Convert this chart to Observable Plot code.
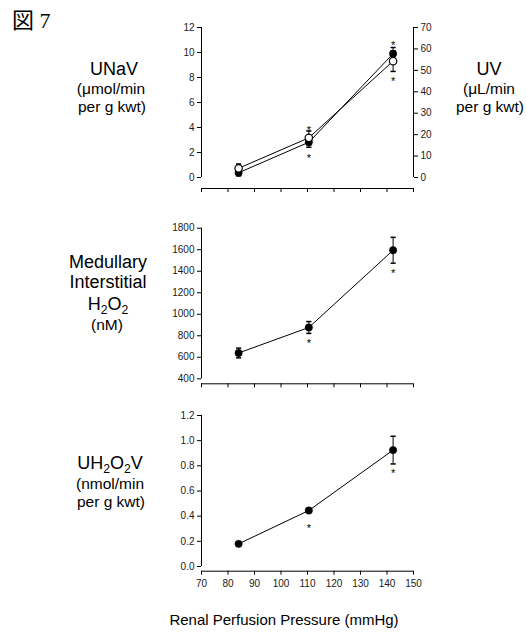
<!DOCTYPE html>
<html><head><meta charset="utf-8">
<script src="https://cdn.jsdelivr.net/npm/d3@7"></script>
<script src="https://cdn.jsdelivr.net/npm/@observablehq/plot@0.6"></script>
<style>
body{margin:0;background:#fff;}
#chart{position:relative;width:526px;height:635px;overflow:hidden;background:#fff;}
#chart > svg{position:absolute;left:0;}
</style></head><body><div id="chart"></div>
<script>
// shared x
const pressure = [84, 110.5, 142.3];
const xTicks = [70, 80, 90, 100, 110, 120, 130, 140, 150];
// top panel: UNaV (filled, left axis) and UV (open, right axis)
const unav = [0.38, 2.82, 9.9];
const unavErr = [0.25, 0.4, 0.5];
const unavStar = [null, 1.76, 10.8];
const uv = [4.3, 18.5, 54.3];
const uvErr = [2.0, 3.2, 4.8];
const uvStar = [null, 23.3, 46.1];
const unavTicks = [0, 2, 4, 6, 8, 10, 12];
const uvTicks = [0, 10, 20, 30, 40, 50, 60, 70];
// middle panel: medullary interstitial H2O2 (nM)
const h2o2 = [640, 877, 1595];
const h2o2Err = [45, 55, 120];
const h2o2Star = [null, 760, 1405];
const h2o2Ticks = [400, 600, 800, 1000, 1200, 1400, 1600, 1800];
// bottom panel: UH2O2V (nmol/min per g kwt)
const uh2o2v = [0.18, 0.445, 0.925];
const uh2o2vErr = [0.012, 0.012, 0.11];
const uh2o2vStar = [null, 0.33, 0.76];
const uh2o2vTicks = [0, 0.2, 0.4, 0.6, 0.8, 1.0, 1.2];

const FONT = '"Liberation Sans", Arial, sans-serif';
const chart = document.getElementById("chart");
const rows = (vals, errs, stars, k = 1) => pressure.map((p, i) => ({
  p, v: vals[i] * k, lo: (vals[i] - errs[i]) * k, hi: (vals[i] + errs[i]) * k,
  s: stars[i] == null ? null : stars[i] * k
}));
const cap = {draw(ctx, size) { const w = Math.sqrt(size / Math.PI); ctx.moveTo(-w, 0); ctx.lineTo(w, 0); }};

function seriesMarks(data, open) {
  return [
    Plot.ruleX(data, {x: "p", y1: "lo", y2: "hi", stroke: "#000", strokeWidth: 1}),
    Plot.dot(data, {x: "p", y: "lo", symbol: cap, r: 2.6, stroke: "#000", fill: "none"}),
    Plot.dot(data, {x: "p", y: "hi", symbol: cap, r: 2.6, stroke: "#000", fill: "none"}),
    Plot.line(data, {x: "p", y: "v", stroke: "#000", strokeWidth: 1}),
    Plot.dot(data, {x: "p", y: "v", r: 3.7, fill: open ? "#fff" : "#000", stroke: "#000", strokeWidth: open ? 1.2 : 0.5}),
    Plot.text(data.filter(d => d.s != null), {x: "p", y: "s", text: () => "*", fontSize: 11, dy: 3, fill: "#000"})
  ];
}

function panel({top, height, mt, mb, ib, domain, ticks, fmt, marks, showX, extraAxis}) {
  const svg = Plot.plot({
    width: 526, height,
    marginLeft: 201, marginRight: 113, marginTop: mt, marginBottom: mb,
    style: {fontFamily: FONT, fontSize: "10px", color: "#1a1a1a", background: "transparent", overflow: "visible"},
    x: {domain: [xTicks[0], xTicks[xTicks.length - 1]]},
    y: {domain, insetBottom: ib},
    marks: [
      Plot.ruleX([xTicks[0]], {y1: domain[0], y2: domain[1], stroke: "#000"}),
      Plot.ruleY([domain[0]], {dy: ib, stroke: "#000"}),
      Plot.axisY(ticks, {anchor: "left", tickSize: 4, tickPadding: 3, tickFormat: fmt, label: null, stroke: "#000"}),
      Plot.axisX(xTicks, {anchor: "bottom", tickSize: 4, tickPadding: 5, tickFormat: showX ? (d => String(d)) : (() => ""), label: null, stroke: "#000"}),
      ...(extraAxis || []),
      ...marks
    ]
  });
  svg.style.top = top + "px";
  chart.appendChild(svg);
}

// top panel
const k = 12 / 70;
panel({
  top: 0, height: 200, mt: 27, mb: 12, ib: 11, domain: [0, 12], ticks: unavTicks, fmt: d => String(d),
  extraAxis: [
    Plot.ruleX([xTicks[xTicks.length - 1]], {y1: 0, y2: 12, stroke: "#000"}),
    Plot.axisY(uvTicks.map(v => v * k), {anchor: "right", tickSize: 4, tickPadding: 3, tickFormat: d => String(Math.round(d / k)), label: null, stroke: "#000"})
  ],
  marks: [...seriesMarks(rows(unav, unavErr, unavStar), false), ...seriesMarks(rows(uv, uvErr, uvStar, k), true)]
});
// middle panel
panel({
  top: 200, height: 200, mt: 27.7, mb: 16.7, ib: 5, domain: [400, 1800], ticks: h2o2Ticks, fmt: d => String(d),
  marks: seriesMarks(rows(h2o2, h2o2Err, h2o2Star), false)
});
// bottom panel
panel({
  top: 400, height: 235, mt: 15, mb: 64.3, ib: 4.7, domain: [0, 1.2], ticks: uh2o2vTicks, fmt: d3.format(".1f"),
  marks: seriesMarks(rows(uh2o2v, uh2o2vErr, uh2o2vStar), false), showX: true
});

// text labels overlay
const ov = d3.select(chart).append("svg").attr("width", 526).attr("height", 635)
  .style("position", "absolute").style("top", "0px").style("left", "0px").style("pointer-events", "none")
  .attr("font-family", FONT).attr("fill", "#000");
function label(x, y, parts, size) {
  const t = ov.append("text").attr("x", x).attr("y", y).attr("text-anchor", "middle").attr("font-size", size);
  let shifted = false;
  parts.forEach(p => {
    const isSub = typeof p !== "string";
    const s = t.append("tspan").text(isSub ? p.sub : p);
    if (isSub) {
      s.attr("font-size", size * 0.68);
      if (!shifted) { s.attr("dy", 4); shifted = true; }
    } else if (shifted) { s.attr("dy", -4); shifted = false; }
  });
}
label(114, 75, ["UNaV"], 18);
label(111, 94, ["(\u03bcmol/min"], 15.5);
label(112, 112, ["per g kwt)"], 15.5);
label(489, 75, ["UV"], 18);
label(489, 94, ["(\u03bcL/min"], 15.5);
label(490, 112, ["per g kwt)"], 15.5);
label(108, 268, ["Medullary"], 18);
label(108, 288, ["Interstitial"], 18);
label(108, 310, ["H", {sub: "2"}, "O", {sub: "2"}], 18);
label(107, 330, ["(nM)"], 15.5);
label(110, 469, ["UH", {sub: "2"}, "O", {sub: "2"}, "V"], 18);
label(110, 489, ["(nmol/min"], 15.5);
label(111, 507, ["per g kwt)"], 15.5);
label(284, 625, ["Renal Perfusion Pressure (mmHg)"], 15);
ov.append("text").attr("x", 12).attr("y", 28).attr("font-size", 22)
  .attr("font-family", '"Liberation Serif", "Noto Sans CJK JP", serif').text("\u56f3 7");
</script></body></html>
